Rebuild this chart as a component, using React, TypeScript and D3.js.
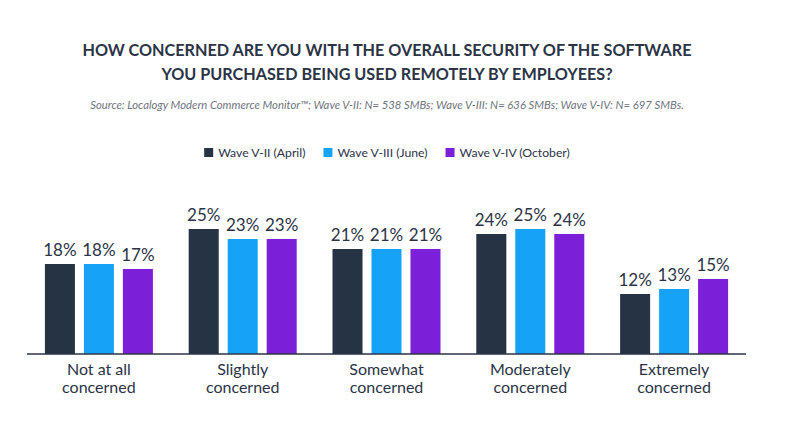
import * as d3 from 'd3';
import { useEffect, useRef } from 'react';

const width = 792;
const height = 432;
const fontFamily = 'Lato, "Open Sans", sans-serif';
const textColor = '#2b3446';

const titleLines = [
    'HOW CONCERNED ARE YOU WITH THE OVERALL SECURITY OF THE SOFTWARE',
    'YOU PURCHASED BEING USED REMOTELY BY EMPLOYEES?',
];
const sourceNote =
    'Source: Localogy Modern Commerce Monitor™; Wave V-II: N= 538 SMBs; Wave V-III: N= 636 SMBs; Wave V-IV: N= 697 SMBs.';

const categories = [
    ['Not at all', 'concerned'],
    ['Slightly', 'concerned'],
    ['Somewhat', 'concerned'],
    ['Moderately', 'concerned'],
    ['Extremely', 'concerned'],
];
const seriesNames = ['Wave V-II (April)', 'Wave V-III (June)', 'Wave V-IV (October)'];
const seriesColors = ['#263345', '#16a2f7', '#7b1fd8'];

const waveApril = [18, 25, 21, 24, 12];
const waveJune = [18, 23, 21, 25, 13];
const waveOctober = [17, 23, 21, 24, 15];
const seriesValues = [waveApril, waveJune, waveOctober];

export default function App() {
    const svgRef = useRef<SVGSVGElement | null>(null);

    useEffect(() => {
        const svg = d3.select(svgRef.current);
        svg.selectAll('*').remove();

        const centerX = 387;

        // Title
        svg.append('g')
            .selectAll('text')
            .data(titleLines)
            .join('text')
            .attr('x', centerX)
            .attr('y', (_, i) => 56 + i * 24)
            .attr('text-anchor', 'middle')
            .attr('fill', textColor)
            .style('font-family', fontFamily)
            .style('font-size', '16.2px')
            .style('font-weight', 'bold')
            .text((d) => d);

        svg.append('text')
            .attr('x', centerX)
            .attr('y', 109)
            .attr('text-anchor', 'middle')
            .attr('fill', '#6f7580')
            .style('font-family', fontFamily)
            .style('font-size', '11.3px')
            .style('font-style', 'italic')
            .text(sourceNote);

        // Legend
        const legend = svg.append('g');
        const items = legend
            .selectAll('g')
            .data(seriesNames)
            .join('g');
        items.append('rect')
            .attr('width', 9)
            .attr('height', 9)
            .attr('y', -9)
            .attr('fill', (_, i) => seriesColors[i]);
        items.append('text')
            .attr('x', 14)
            .attr('fill', textColor)
            .style('font-family', fontFamily)
            .style('font-size', '12.2px')
            .text((d) => d);
        let offset = 0;
        items.each(function () {
            const g = d3.select(this);
            g.attr('transform', `translate(${offset},0)`);
            const w = (g.select('text').node() as SVGTextElement).getComputedTextLength() + 14;
            offset += w + 18;
        });
        const legendWidth = offset - 18;
        legend.attr('transform', `translate(${centerX - legendWidth / 2},157)`);

        // Plot
        const x0 = d3
            .scaleBand<number>()
            .domain(d3.range(categories.length))
            .range([27, 746])
            .paddingInner(0)
            .paddingOuter(0);
        const x1 = d3
            .scaleBand<number>()
            .domain(d3.range(seriesNames.length))
            .range([0, 108])
            .paddingInner(0.23);
        const y = d3.scaleLinear().domain([0, 25]).range([354, 229]);
        const groupPad = (x0.bandwidth() - 108) / 2;

        const groups = svg
            .append('g')
            .selectAll('g')
            .data(categories)
            .join('g')
            .attr('transform', (_, i) => `translate(${(x0(i) ?? 0) + groupPad},0)`);

        groups.each(function (_, ci) {
            const g = d3.select(this);
            const vals = seriesValues.map((s) => s[ci]);
            g.selectAll('rect')
                .data(vals)
                .join('rect')
                .attr('x', (_, si) => x1(si) ?? 0)
                .attr('y', (d) => y(d))
                .attr('width', x1.bandwidth())
                .attr('height', (d) => y(0) - y(d))
                .attr('fill', (_, si) => seriesColors[si]);
            g.selectAll('text.value')
                .data(vals)
                .join('text')
                .attr('class', 'value')
                .attr('x', (_, si) => (x1(si) ?? 0) + x1.bandwidth() / 2)
                .attr('y', (d) => y(d) - 8)
                .attr('text-anchor', 'middle')
                .attr('fill', textColor)
                .style('font-family', fontFamily)
                .style('font-size', '17px')
                .text((d) => `${d}%`);
        });

        // Baseline axis
        svg.append('line')
            .attr('x1', 27)
            .attr('x2', 746)
            .attr('y1', y(0))
            .attr('y2', y(0))
            .attr('stroke', textColor)
            .attr('stroke-width', 1.5);

        // Category labels, two lines each
        const labelGroups = svg
            .append('g')
            .selectAll('g')
            .data(categories)
            .join('g')
            .attr('transform', (_, i) => `translate(${(x0(i) ?? 0) + x0.bandwidth() / 2},0)`);
        labelGroups
            .selectAll('text')
            .data((d) => d)
            .join('text')
            .attr('y', (_, i) => 375 + i * 18)
            .attr('text-anchor', 'middle')
            .attr('fill', textColor)
            .style('font-family', fontFamily)
            .style('font-size', '16px')
            .text((d) => d);
    }, []);

    return (
        <svg
            ref={svgRef}
            width={width}
            height={height}
            style={{ position: 'absolute', left: 0, top: 0, background: '#fff' }}
        />
    );
}
